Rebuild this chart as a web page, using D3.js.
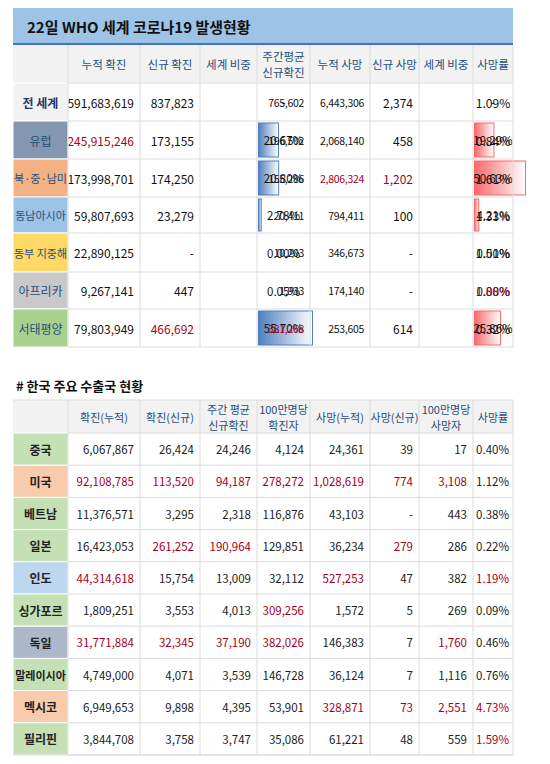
<!DOCTYPE html>
<html><head><meta charset="utf-8">
<script src="https://cdn.jsdelivr.net/npm/d3@7"></script>
<style>body{margin:0;background:#fff}svg{display:block;font-family:"Noto Sans CJK KR","Noto Sans",sans-serif}</style>
</head><body><svg id="c" width="550" height="764"></svg>
<script>
// ---- data: WHO regions ----
const regionNames = ["전 세계","유럽","북·중·남미","동남아시아","동부 지중해","아프리카","서태평양"];
const regionColors = ["#f2f2f2","#8497b0","#f4b183","#9dc3e6","#ffd966","#c9c9c9","#a9d18e"];
const topHeaders = ["누적 확진","신규 확진","세계 비중","주간평균\n신규확진","누적 사망","신규 사망","세계 비중","사망률"];
const cumCases = ["591,683,619","245,915,246","173,998,701","59,807,693","22,890,125","9,267,141","79,803,949"];
const newCases = ["837,823","173,155","174,250","23,279","-","447","466,692"];
const caseShare = [null,20.67,20.80,2.78,0.00,0.05,55.70];
const weeklyAvg = ["765,602","196,502","155,286","20,411","10,203","1,933","381,268"];
const cumDeaths = ["6,443,306","2,068,140","2,806,324","794,411","346,673","174,140","253,605"];
const newDeaths = ["2,374","458","1,202","100","-","-","614"];
const deathShare = [null,19.29,50.63,4.21,0.00,0.00,25.86];
const fatality = ["1.09%","0.84%","1.61%","1.33%","1.51%","1.88%","0.32%"];
// red-highlighted cells [row, col]
const topRed = [[1,0],[2,4],[2,5],[5,7],[6,1],[6,3]];

// ---- data: Korea export partners ----
const countries = ["중국","미국","베트남","일본","인도","싱가포르","독일","말레이시아","멕시코","필리핀"];
const countryColors = ["#c5e0b4","#f8cbad","#c5e0b4","#c5e0b4","#bdd7ee","#c5e0b4","#adb9ca","#c5e0b4","#f8cbad","#c5e0b4"];
const botHeaders = ["확진(누적)","확진(신규)","주간 평균\n신규확진","100만명당\n확진자","사망(누적)","사망(신규)","100만명당\n사망자","사망률"];
const cCum = ["6,067,867","92,108,785","11,376,571","16,423,053","44,314,618","1,809,251","31,771,884","4,749,000","6,949,653","3,844,708"];
const cNew = ["26,424","113,520","3,295","261,252","15,754","3,553","32,345","4,071","9,898","3,758"];
const cWeek = ["24,246","94,187","2,318","190,964","13,009","4,013","37,190","3,539","4,395","3,747"];
const cPerM = ["4,124","278,272","116,876","129,851","32,112","309,256","382,026","146,728","53,901","35,086"];
const cDeath = ["24,361","1,028,619","43,103","36,234","527,253","1,572","146,383","36,124","328,871","61,221"];
const cNewD = ["39","774","-","279","47","5","7","7","73","48"];
const cDPerM = ["17","3,108","443","286","382","269","1,760","1,116","2,551","559"];
const cFat = ["0.40%","1.12%","0.38%","0.22%","1.19%","0.09%","0.46%","0.76%","4.73%","1.59%"];
const botRed = [[1,0],[1,1],[1,2],[1,3],[1,4],[1,5],[1,6],[3,1],[3,2],[3,5],[4,0],[4,4],[4,7],[5,3],[6,0],[6,1],[6,2],[6,3],[6,6],[8,4],[8,5],[8,6],[8,7],[9,7]];

const svg = d3.select("#c");
const colX = [13,68,140,200,257,310,370,419,473,513];
const RED = "#a50021", HEAD = "#1f4e79", GRID = "#dcdcdc";

const defs = svg.append("defs");
function grad(id, c){
  const g = defs.append("linearGradient").attr("id",id);
  g.append("stop").attr("offset","0%").attr("stop-color",c);
  g.append("stop").attr("offset","100%").attr("stop-color","#fff");
}
grad("gb","#4f7fbd"); grad("gr","#f8696b");

function hdrText(g, txt, x, yc, color, size){
  const lines = txt.split("\n");
  lines.forEach((l,i)=>{
    g.append("text").attr("x",x).attr("y",yc + (i-(lines.length-1)/2)*16)
     .attr("dominant-baseline","central").attr("text-anchor","middle")
     .attr("fill",color).attr("font-size",size).text(l);
  });
}

// ===== Top table =====
const topG = svg.append("g");
topG.append("rect").attr("x",13).attr("y",8).attr("width",500).attr("height",36).attr("fill","#9dc3e6");
topG.append("rect").attr("x",13).attr("y",43).attr("width",500).attr("height",2).attr("fill","#4472c4");
topG.append("text").attr("x",27).attr("y",26).attr("dominant-baseline","central")
  .attr("font-size",15).attr("font-weight","bold").attr("fill","#111")
  .text("22일   WHO 세계 코로나19 발생현황");

const topRows = [45,83,121,159,197,233,272,309,347];
const yTop = i => topRows[i];
topG.append("rect").attr("x",13).attr("y",45).attr("width",500).attr("height",38).attr("fill","#f2f2f2");
topHeaders.forEach((h,j)=>hdrText(topG,h,(colX[j+1]+colX[j+2])/2,64,HEAD,11.5));

const shareScale = d3.scaleLinear().domain([0,d3.max(caseShare)]).range([0,colX[4]-colX[3]-3]);
const dShareScale = d3.scaleLinear().domain([0,d3.max(deathShare)]).range([0,colX[8]-colX[7]-3]);
const cols = [cumCases,newCases,null,weeklyAvg,cumDeaths,newDeaths,null,fatality];
regionNames.forEach((name,i)=>{
  const y0 = yTop(i+1), y1 = yTop(i+2), yc=(y0+y1)/2;
  topG.append("rect").attr("x",colX[0]).attr("y",y0).attr("width",colX[1]-colX[0]).attr("height",y1-y0)
    .attr("fill",regionColors[i]).attr("stroke","#fff");
  topG.append("text").attr("x",(colX[0]+colX[1])/2).attr("y",yc).attr("dominant-baseline","central")
    .attr("text-anchor","middle").attr("font-size",name.length>4?11:12).attr("font-weight",i===0?"bold":"normal")
    .attr("fill",i===0?"#1f3864":"#1f4e79").text(name);
  [[caseShare,shareScale,"gb","#4f7fbd",3],[deathShare,dShareScale,"gr","#f8696b",7]].forEach(([arr,sc,gid,sc2,j])=>{
    if(arr[i]!==null && arr[i]>0.1){
      topG.append("rect").attr("x",colX[j+1]+1.5).attr("y",y0+2).attr("width",sc(arr[i])).attr("height",y1-y0-4)
        .attr("fill",`url(#${gid})`).attr("stroke",sc2).attr("stroke-width",1);
    }
    const t = arr[i]===null?"-":arr[i].toFixed(2)+"%";
    topG.append("text").attr("x",(colX[j+1]+colX[j+2])/2).attr("y",yc).attr("dominant-baseline","central")
      .attr("text-anchor","middle").attr("font-size",11.5).attr("fill","#111").text(t);
  });
  cols.forEach((arr,j)=>{
    if(!arr) return;
    const isRed = topRed.some(r=>r[0]===i&&r[1]===j);
    const center = j===7;
    topG.append("text").attr("x",center?(colX[j+1]+colX[j+2])/2:colX[j+2]-6).attr("y",yc)
      .attr("dominant-baseline","central").attr("text-anchor",center?"middle":"end")
      .attr("font-size",j===3||j===4?10.5:12).attr("fill",isRed?RED:"#111")
      .attr("letter-spacing",j===3||j===4?-0.3:0).text(arr[i]);
  });
});
colX.slice(1).forEach(x=>topG.append("line").attr("x1",x).attr("x2",x).attr("y1",45).attr("y2",347).attr("stroke",GRID));
topRows.slice(1).forEach(y=>topG.append("line").attr("x1",68).attr("x2",513).attr("y1",y).attr("y2",y).attr("stroke",GRID));

// ===== Bottom table =====
const bot = svg.append("g");
bot.append("text").attr("x",16).attr("y",385).attr("dominant-baseline","central")
  .attr("font-size",13).attr("font-weight","bold").attr("fill","#111").text("# 한국 주요 수출국 현황");
const bRows = d3.range(11).map(i=>433+i*32.2);
bot.append("rect").attr("x",13).attr("y",400).attr("width",500).attr("height",33).attr("fill","#f2f2f2");
botHeaders.forEach((h,j)=>hdrText(bot,h,(colX[j+1]+colX[j+2])/2,417,HEAD,11));
const bCols = [cCum,cNew,cWeek,cPerM,cDeath,cNewD,cDPerM,cFat];
countries.forEach((name,i)=>{
  const y0=bRows[i], y1=bRows[i+1], yc=(y0+y1)/2;
  bot.append("rect").attr("x",colX[0]).attr("y",y0).attr("width",colX[1]-colX[0]).attr("height",y1-y0)
    .attr("fill",countryColors[i]).attr("stroke","#fff");
  bot.append("text").attr("x",(colX[0]+colX[1])/2).attr("y",yc).attr("dominant-baseline","central")
    .attr("text-anchor","middle").attr("font-size",name.length>4?11:12).attr("font-weight","bold")
    .attr("fill","#222").text(name);
  bCols.forEach((arr,j)=>{
    const isRed = botRed.some(r=>r[0]===i&&r[1]===j);
    bot.append("text").attr("x",colX[j+2]-(j===7?4:6)).attr("y",yc).attr("dominant-baseline","central")
      .attr("text-anchor","end").attr("font-size",11.5).attr("fill",isRed?RED:"#222").text(arr[i]);
  });
});
colX.slice(1).forEach(x=>bot.append("line").attr("x1",x).attr("x2",x).attr("y1",400).attr("y2",755).attr("stroke",GRID));
bRows.forEach(y=>bot.append("line").attr("x1",68).attr("x2",513).attr("y1",y).attr("y2",y).attr("stroke",GRID));
bot.append("line").attr("x1",13).attr("x2",513).attr("y1",400).attr("y2",400).attr("stroke",GRID);
bot.append("line").attr("x1",13).attr("x2",513).attr("y1",755).attr("y2",755).attr("stroke",GRID);
</script></body></html>
